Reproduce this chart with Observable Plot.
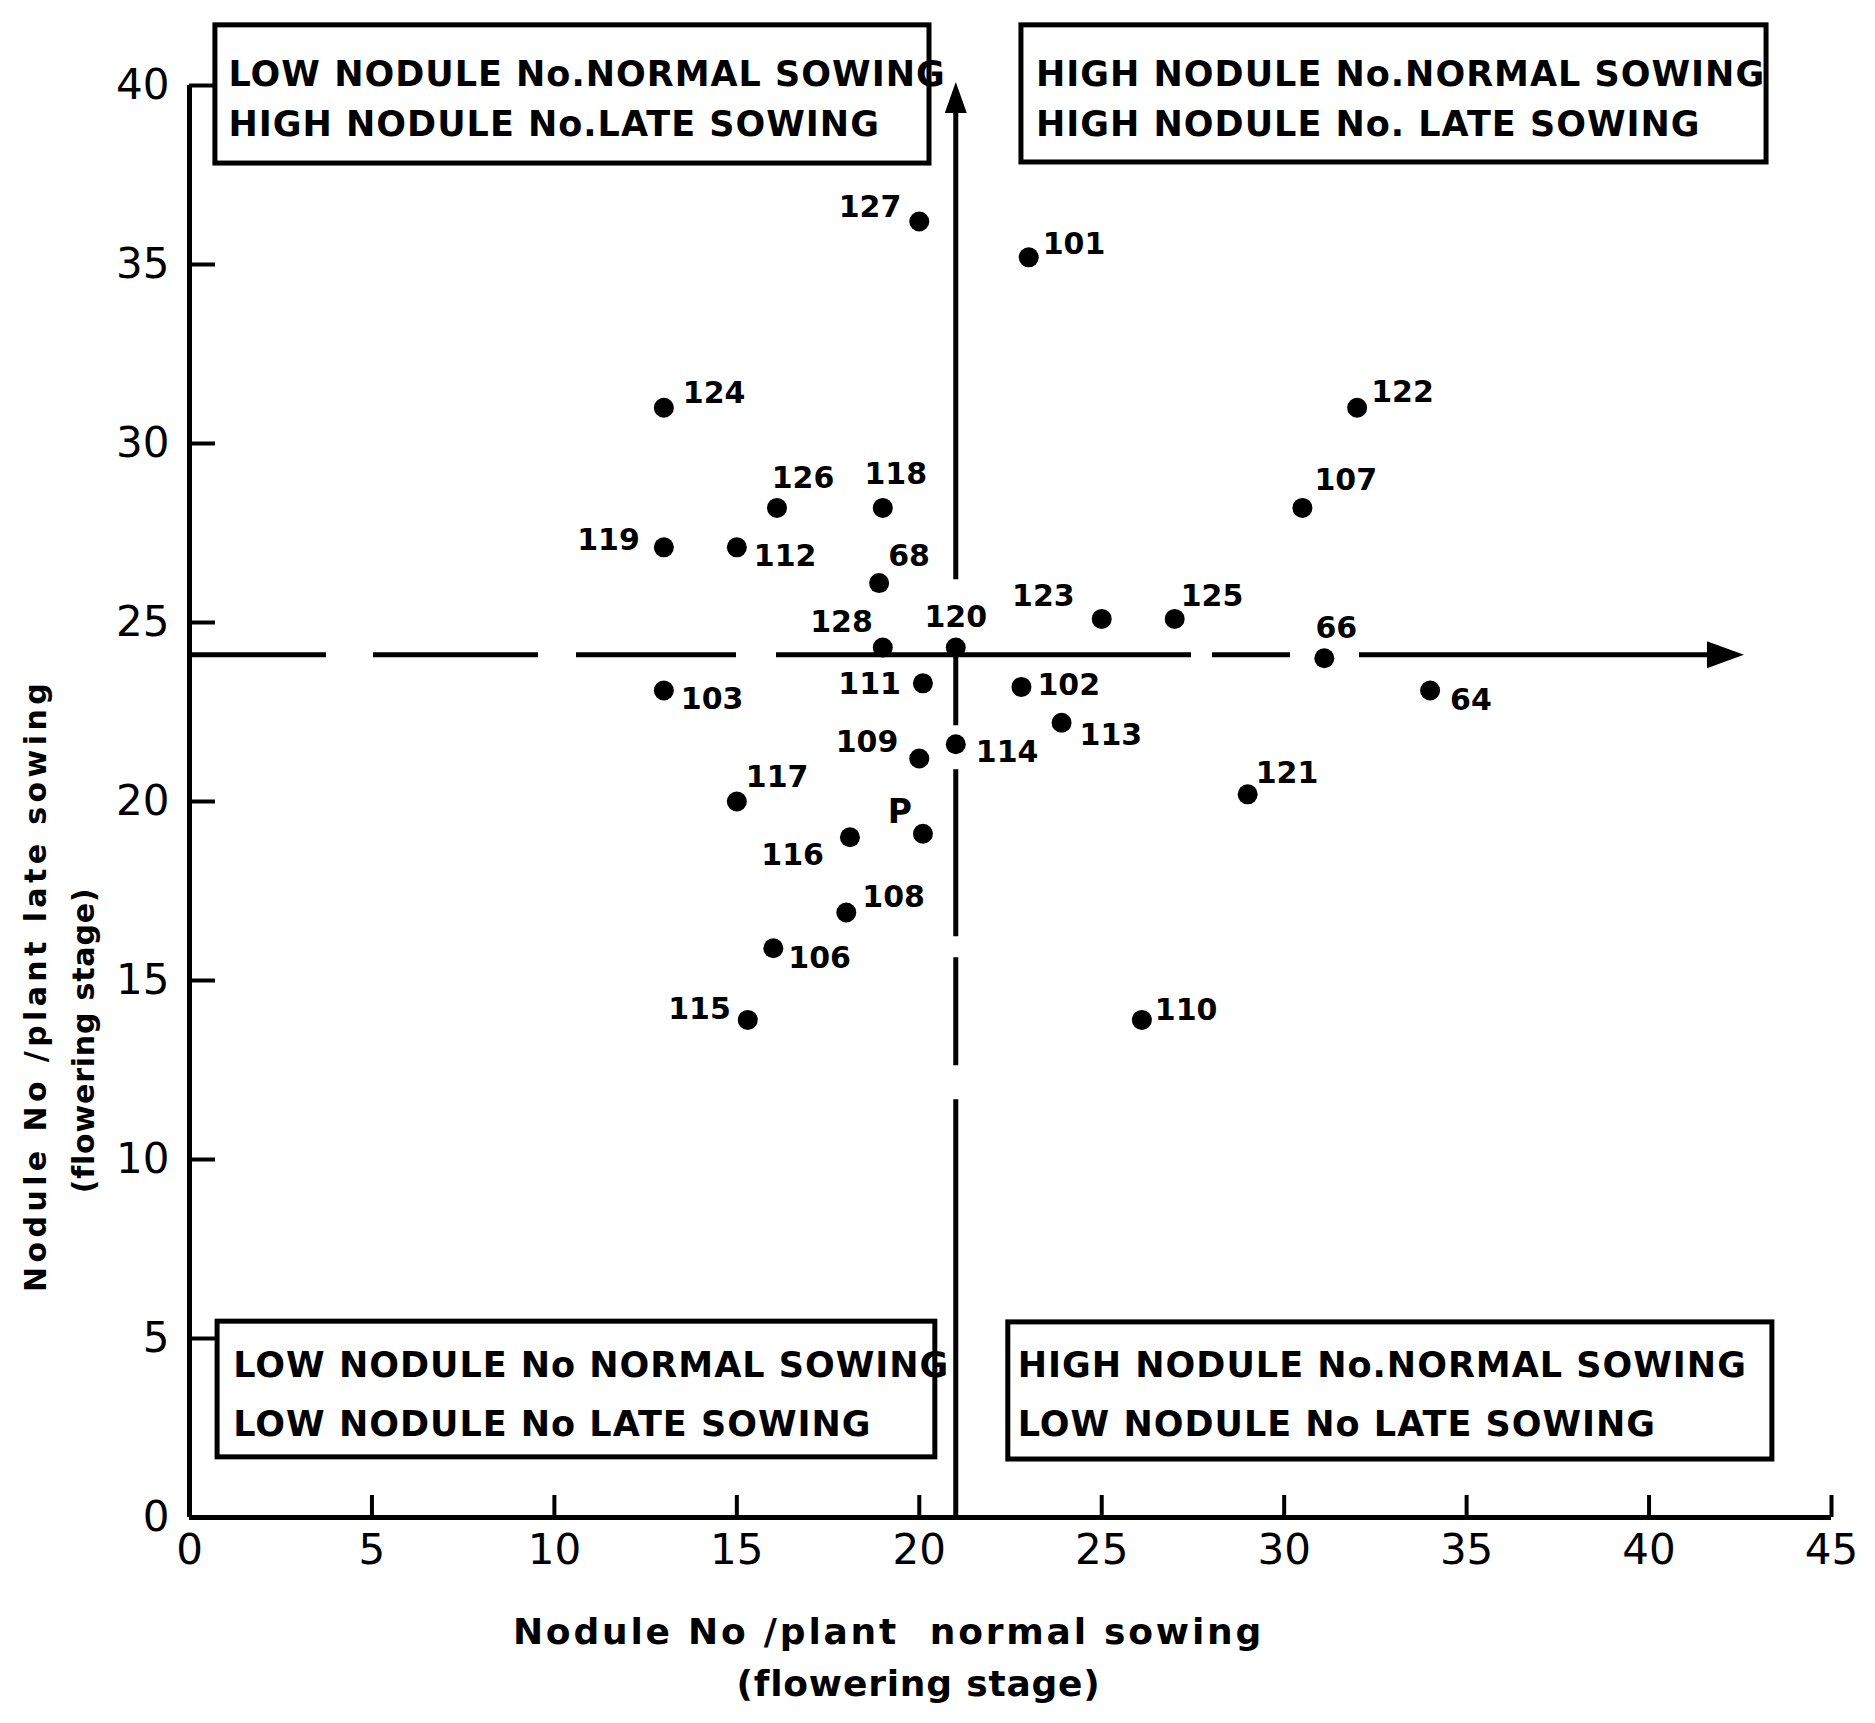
<!DOCTYPE html>
<html>
<head>
<meta charset="utf-8">
<script src="https://cdn.jsdelivr.net/npm/d3@7"></script>
<script src="https://cdn.jsdelivr.net/npm/@observablehq/plot@0.6"></script>
<style>
  html, body { margin: 0; padding: 0; background: #fff; }
  #chart svg { display: block; }
</style>
</head>
<body>
<div id="chart"></div>
<script>
// ---- data ----
const ids    = ["127","101","124","122","126","118","107","119","112","68","123","125","128","120","66","103","111","102","64","113","109","114","117","121","P","116","108","106","115","110"];
const normal = [20, 23, 13, 32, 16.1, 19, 30.5, 13, 15, 18.9, 25, 27, 19, 21, 31.1, 13, 20.1, 22.8, 34, 23.9, 20, 21, 15, 29, 20.1, 18.1, 18, 16, 15.3, 26.1];
const late   = [36.2, 35.2, 31, 31, 28.2, 28.2, 28.2, 27.1, 27.1, 26.1, 25.1, 25.1, 24.3, 24.3, 24, 23.1, 23.3, 23.2, 23.1, 22.2, 21.2, 21.6, 20, 20.2, 19.1, 19, 16.9, 15.9, 13.9, 13.9];

const xTicks = [0, 5, 10, 15, 20, 25, 30, 35, 40, 45];
const yTicks = [0, 5, 10, 15, 20, 25, 30, 35, 40];

// quadrant dividers (means) and arrow ends
const xDivider = 21, yDivider = 24.1;
const xArrowEnd = 42.6, yArrowEnd = 40.1;

// quadrant annotation boxes (data units)
const quadrantBoxes = [
  {x1: 0.71, x2: 20.28, y1: 37.82, y2: 41.68},
  {x1: 22.8, x2: 43.22, y1: 37.85, y2: 41.68},
  {x1: 0.77, x2: 20.44, y1: 1.68, y2: 5.47},
  {x1: 22.44, x2: 43.38, y1: 1.62, y2: 5.45}
];
const quadrantText = [
  {x: 1.07, y: 40.3, text: "LOW NODULE No.NORMAL SOWING"},
  {x: 1.07, y: 38.9, text: "HIGH NODULE No.LATE SOWING"},
  {x: 23.2, y: 40.3, text: "HIGH NODULE No.NORMAL SOWING"},
  {x: 23.2, y: 38.9, text: "HIGH NODULE No. LATE SOWING"},
  {x: 1.2, y: 4.25, text: "LOW NODULE No NORMAL SOWING"},
  {x: 1.2, y: 2.58, text: "LOW NODULE No LATE SOWING"},
  {x: 22.7, y: 4.25, text: "HIGH NODULE No.NORMAL SOWING"},
  {x: 22.7, y: 2.58, text: "LOW NODULE No LATE SOWING"}
];

const xTitle = ["Nodule No /plant  normal sowing", "(flowering stage)"];
const yTitle = ["Nodule No /plant late sowing", "(flowering stage)"];

// label placement (pixel offsets, anchor) — layout only
const labelPlacement = {
  "127": [-18, -14, "end"], "101": [14, -13, "start"], "124": [19, -14, "start"],
  "122": [14, -15, "start"], "126": [26, -30, "middle"], "118": [13, -34, "middle"],
  "107": [12, -28, "start"], "119": [-24, -7, "end"], "112": [17, 9, "start"],
  "68": [9, -27, "start"], "123": [-27, -23, "end"], "125": [6, -23, "start"],
  "128": [-10, -25, "end"], "120": [0, -30, "middle"], "66": [12, -30, "middle"],
  "103": [17, 9, "start"], "111": [-22, 1, "end"], "102": [16, -2, "start"],
  "64": [20, 10, "start"], "113": [18, 13, "start"], "109": [-21, -16, "end"],
  "114": [20, 8, "start"], "117": [9, -24, "start"], "121": [8, -21, "start"],
  "P": [-11, -21, "end"], "116": [-26, 18, "end"], "108": [16, -15, "start"],
  "106": [15, 10, "start"], "115": [-17, -10, "end"], "110": [13, -9, "start"]
};

const points = ids.map((id, i) => ({id, normal: normal[i], late: late[i]}));

const arrowUp = {draw(c) { c.moveTo(0, 0); c.lineTo(11, 31); c.lineTo(-11, 31); c.closePath(); }};
const arrowRight = {draw(c) { c.moveTo(0, 0); c.lineTo(-37, -13.5); c.lineTo(-37, 13.5); c.closePath(); }};

const labelMarks = points.map(p => {
  const [dx, dy, anchor] = labelPlacement[p.id];
  return Plot.text([p], {x: "normal", y: "late", text: "id", dx, dy, textAnchor: anchor,
    fontSize: p.id === "P" ? 33 : 30, fontWeight: "bold", fill: "black"});
});

const titleStyle = {textAnchor: "middle", lineAnchor: "middle", fontWeight: "bold", fill: "black"};

const chart = Plot.plot({
  width: 1875,
  height: 1723,
  marginLeft: 189,
  marginRight: 44,
  marginTop: 85,
  marginBottom: 206,
  x: {domain: [0, 45], label: null},
  y: {domain: [0, 40], label: null},
  style: {background: "white", fontFamily: "DejaVu Sans", color: "black"},
  marks: [
    Plot.axisX({ticks: xTicks, tickSize: 0, tickPadding: 17, fontSize: 42, label: null}),
    Plot.axisY({ticks: yTicks, tickSize: 0, tickPadding: 20, fontSize: 42, label: null}),
    // inward tick marks
    Plot.ruleX(xTicks.filter(d => d > 0), {x: d => d, y1: 0, y2: 0, insetTop: -22, strokeWidth: 4}),
    Plot.ruleY(yTicks.filter(d => d > 0), {y: d => d, x1: 0, x2: 0, insetRight: -26, strokeWidth: 4}),
    // axis lines
    Plot.ruleY([0], {x1: 0, x2: 45, strokeWidth: 5}),
    Plot.ruleX([0], {y1: 0, y2: 40, strokeWidth: 5}),
    // quadrant dividers
    Plot.ruleY([yDivider], {x1: 0, x2: xArrowEnd - 0.3, strokeWidth: 5,
      strokeDasharray: "137,47,165,38,160,40,415,21,78,69,384"}),
    Plot.ruleX([xDivider], {y1: yArrowEnd - 0.3, y2: 0, strokeWidth: 5,
      strokeDasharray: "487,59,87,44,167,21,108,34,440"}),
    Plot.dot([{x: xDivider, y: yArrowEnd}], {x: "x", y: "y", symbol: arrowUp, fill: "black", stroke: "none", r: 10}),
    Plot.dot([{x: xArrowEnd, y: yDivider}], {x: "x", y: "y", symbol: arrowRight, fill: "black", stroke: "none", r: 10}),
    // quadrant boxes
    Plot.rect(quadrantBoxes, {x1: "x1", x2: "x2", y1: "y1", y2: "y2", fill: "white", stroke: "black", strokeWidth: 5}),
    Plot.text(quadrantText, {x: "x", y: "y", text: "text", textAnchor: "start", fontSize: 35, fontWeight: "bold", fill: "black"}),
    // points
    Plot.dot(points, {x: "normal", y: "late", r: 10, fill: "black", stroke: "none"}),
    ...labelMarks,
    // axis titles
    Plot.text([xTitle[0]], {frameAnchor: "bottom", dx: -122, dy: 115, fontSize: 36, ...titleStyle}),
    Plot.text([xTitle[1]], {frameAnchor: "bottom", dx: -92, dy: 167, fontSize: 36, ...titleStyle}),
    Plot.text([yTitle[0]], {frameAnchor: "left", dx: -153, dy: 184, rotate: -90, fontSize: 30, ...titleStyle}),
    Plot.text([yTitle[1]], {frameAnchor: "left", dx: -105, dy: 239, rotate: -90, fontSize: 30, ...titleStyle})
  ]
});

document.getElementById("chart").appendChild(chart);

// letter spacing for the hand-lettered titles
const spacing = new Map([
  [xTitle[0], 2.8], [xTitle[1], 0.8], [yTitle[0], 4.4]
]);
d3.select(chart).selectAll("text").each(function() {
  const t = this.textContent;
  if (spacing.has(t)) d3.select(this).attr("letter-spacing", spacing.get(t));
  if (t.includes("SOWING")) d3.select(this).attr("letter-spacing", 1);
});
</script>
</body>
</html>
